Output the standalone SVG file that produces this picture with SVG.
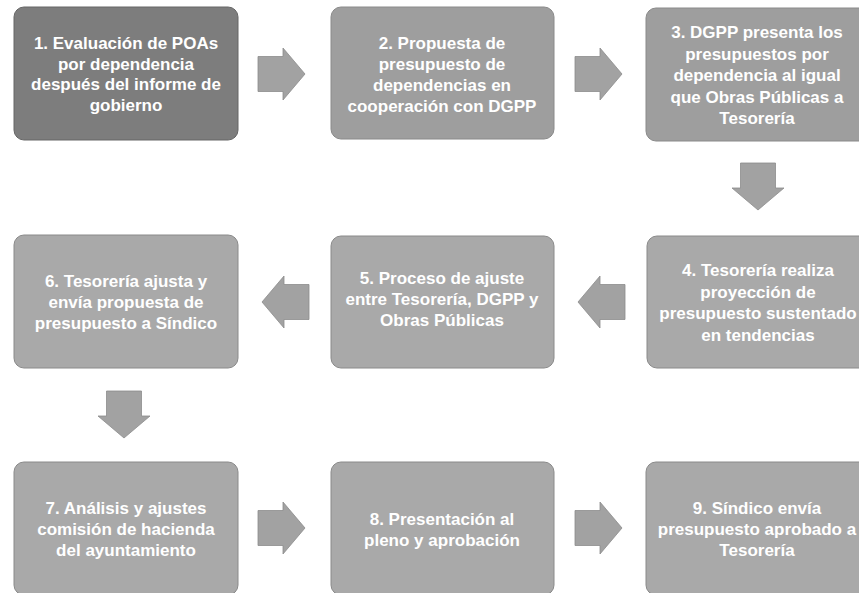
<svg xmlns="http://www.w3.org/2000/svg" width="859" height="593" viewBox="0 0 859 593">
<defs>
<style>
.box{fill:#a9a9a9;stroke:#8a8a8a;stroke-width:1}
.dark{fill:#7d7d7d;stroke:#666}
.mid{fill:#9e9e9e}
.t{font-family:"Liberation Sans",Arial,sans-serif;font-weight:bold;font-size:17px;fill:#ffffff;text-anchor:middle}
.arr{fill:#a2a2a2;stroke:#8c8c8c;stroke-width:0.8}
</style>
<path id="ar" d="M0,-17.5 H25 V-26 L47,0 L25,26 V17.5 H0 Z"/>
</defs>
<rect width="859" height="593" fill="#ffffff"/>
<g id="connectors">
<use href="#ar" class="arr" transform="translate(258,74)"/>
<use href="#ar" class="arr" transform="translate(575,74)"/>
<use href="#ar" class="arr" transform="translate(758,163) rotate(90)"/>
<use href="#ar" class="arr" transform="translate(625,302) rotate(180)"/>
<use href="#ar" class="arr" transform="translate(309,302) rotate(180)"/>
<use href="#ar" class="arr" transform="translate(124,391) rotate(90)"/>
<use href="#ar" class="arr" transform="translate(258,528)"/>
<use href="#ar" class="arr" transform="translate(575,528)"/>
</g>
<g id="n1">
<rect class="box dark" x="14" y="7" width="224" height="133" rx="10"/>
<text class="t"><tspan x="126" y="49">1. Evaluación de POAs</tspan><tspan x="126" y="69.5">por dependencia</tspan><tspan x="126" y="90">después del informe de</tspan><tspan x="126" y="110.5">gobierno</tspan></text>
</g>
<g id="n2">
<rect class="box mid" x="331" y="7" width="223" height="132" rx="10"/>
<text class="t"><tspan x="442" y="49">2. Propuesta de</tspan><tspan x="442" y="70">presupuesto de</tspan><tspan x="442" y="91">dependencias en</tspan><tspan x="442" y="112">cooperación con DGPP</tspan></text>
</g>
<g id="n3">
<rect class="box mid" x="646" y="8" width="224" height="133" rx="10"/>
<text class="t"><tspan x="757" y="38">3. DGPP presenta los</tspan><tspan x="757" y="59.5">presupuestos por</tspan><tspan x="757" y="81">dependencia al igual</tspan><tspan x="757" y="102.5">que Obras Públicas a</tspan><tspan x="757" y="124">Tesorería</tspan></text>
</g>
<g id="n4">
<rect class="box" x="647" y="236" width="224" height="132" rx="10"/>
<text class="t"><tspan x="758" y="276">4. Tesorería realiza</tspan><tspan x="758" y="297.5">proyección de</tspan><tspan x="758" y="319">presupuesto sustentado</tspan><tspan x="758" y="340.5">en tendencias</tspan></text>
</g>
<g id="n5">
<rect class="box" x="331" y="236" width="223" height="132" rx="10"/>
<text class="t"><tspan x="442" y="284">5. Proceso de ajuste</tspan><tspan x="442" y="305">entre Tesorería, DGPP y</tspan><tspan x="442" y="326">Obras Públicas</tspan></text>
</g>
<g id="n6">
<rect class="box" x="14" y="235" width="224" height="133" rx="10"/>
<text class="t"><tspan x="126" y="287">6. Tesorería ajusta y</tspan><tspan x="126" y="308">envía propuesta de</tspan><tspan x="126" y="329">presupuesto a Síndico</tspan></text>
</g>
<g id="n7">
<rect class="box" x="14" y="462" width="224" height="133" rx="10"/>
<text class="t"><tspan x="126" y="514">7. Análisis y ajustes</tspan><tspan x="126" y="535">comisión de hacienda</tspan><tspan x="126" y="556">del ayuntamiento</tspan></text>
</g>
<g id="n8">
<rect class="box" x="331" y="462" width="223" height="133" rx="10"/>
<text class="t"><tspan x="442" y="525">8. Presentación al</tspan><tspan x="442" y="546">pleno y aprobación</tspan></text>
</g>
<g id="n9">
<rect class="box" x="646" y="462" width="224" height="133" rx="10"/>
<text class="t"><tspan x="757" y="514">9. Síndico envía</tspan><tspan x="757" y="535">presupuesto aprobado a</tspan><tspan x="757" y="556">Tesorería</tspan></text>
</g>
</svg>
